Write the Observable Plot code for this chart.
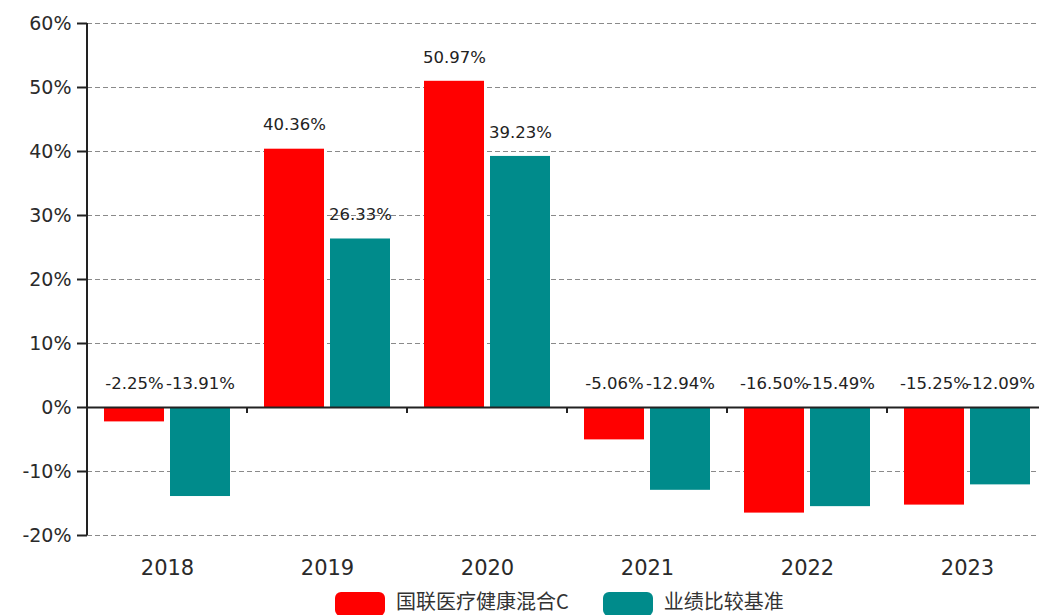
<!DOCTYPE html>
<html>
<head>
<meta charset="utf-8">
<script src="https://cdn.jsdelivr.net/npm/d3@7"></script>
<script src="https://cdn.jsdelivr.net/npm/@observablehq/plot@0.6"></script>
<style>
  html, body { margin: 0; padding: 0; background: #fff; }
  #chart { width: 1039px; height: 615px; overflow: hidden; position: relative; }
  #chart svg { display: block; }
  .legend { display: flex; align-items: flex-start; padding-left: 335px; margin-top: -1px;
            font-family: "Noto Sans CJK SC", "DejaVu Sans", sans-serif; font-size: 20px; color: #333; }
  .legend .item { display: flex; align-items: flex-start; margin-right: 34px; }
  .legend .sw { width: 50px; height: 24px; border-radius: 6px; margin-right: 11px; margin-top: 3px; }
  .legend .lbl { line-height: 24px; }
</style>
</head>
<body>
<div id="chart"></div>
<script>
const years = ["2018", "2019", "2020", "2021", "2022", "2023"];
const seriesNames = ["国联医疗健康混合C", "业绩比较基准"];
const fundValues = [-2.25, 40.36, 50.97, -5.06, -16.50, -15.25];
const benchValues = [-13.91, 26.33, 39.23, -12.94, -15.49, -12.09];
const seriesColors = ["#ff0000", "#008b8b"];
const yTicks = [-20, -10, 0, 10, 20, 30, 40, 50, 60];
const gridTicks = [-20, -10, 10, 20, 30, 40, 50, 60];

const data = years.flatMap((yr, i) => [
  {year: yr, series: seriesNames[0], value: fundValues[i]},
  {year: yr, series: seriesNames[1], value: benchValues[i]}
]);

const font = "DejaVu Sans, Verdana, sans-serif";

const svg = Plot.plot({
  width: 1039,
  height: 590,
  marginLeft: 87,
  marginRight: -8,
  marginTop: 23,
  marginBottom: 55,
  style: {fontFamily: font, background: "#fff"},
  facet: {data, x: "year"},
  fx: {domain: years, padding: 0, label: null},
  x: {domain: seriesNames, paddingInner: 0.09, paddingOuter: 0.24, axis: null},
  y: {domain: [-20, 60], label: null},
  color: {domain: seriesNames, range: seriesColors},
  marks: [
    Plot.gridY(gridTicks, {stroke: "#8a8a8a", strokeOpacity: 1, strokeWidth: 1.2, strokeDasharray: "5,3"}),
    Plot.barY(data, {x: "series", y: "value", fill: "series"}),
    Plot.ruleY([0], {stroke: "#222", strokeWidth: 2}),
    Plot.text(data, {
      x: "series",
      y: d => Math.max(0, d.value),
      text: d => d.value.toFixed(2) + "%",
      dy: -24,
      fontSize: 16.5,
      fill: "#222"
    }),
    Plot.axisY({ticks: yTicks, tickFormat: d => d + "%", tickSize: 10, tickPadding: 6,
                fontSize: 19, fill: "#2a2a2a", stroke: "#222", strokeWidth: 2, label: null}),
    Plot.axisFx({anchor: "bottom", tickSize: 0, tickPadding: 25, fontSize: 21, fill: "#2a2a2a", label: null})
  ]
});

// axis domain line and category boundary ticks, positioned with Plot's own scales
const fx = svg.scale("fx");
const ys = svg.scale("y");
const g = d3.select(svg).append("g").attr("stroke", "#222").attr("stroke-width", 2);
const x0 = fx.apply(years[0]);
g.append("line").attr("x1", x0).attr("x2", x0)
  .attr("y1", ys.apply(60)).attr("y2", ys.apply(-20));
years.slice(1).forEach(yr => {
  const xb = fx.apply(yr);
  g.append("line").attr("x1", xb).attr("x2", xb)
    .attr("y1", ys.apply(0)).attr("y2", ys.apply(0) + 6);
});

const chart = document.getElementById("chart");
chart.appendChild(svg);

const legend = document.createElement("div");
legend.className = "legend";
seriesNames.forEach((name, i) => {
  const item = document.createElement("div");
  item.className = "item";
  const sw = document.createElement("div");
  sw.className = "sw";
  sw.style.background = seriesColors[i];
  const lbl = document.createElement("span");
  lbl.className = "lbl";
  lbl.textContent = name;
  item.appendChild(sw);
  item.appendChild(lbl);
  legend.appendChild(item);
});
chart.appendChild(legend);
</script>
</body>
</html>
